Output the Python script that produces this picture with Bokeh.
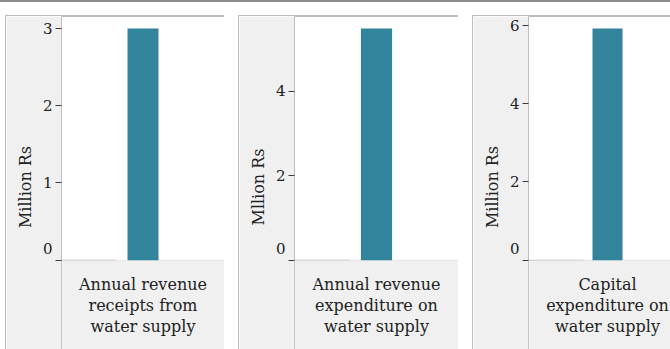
from bokeh.plotting import figure
from bokeh.models import Range1d, FactorRange, FixedTicker, BoxAnnotation
from bokeh.layouts import row, column
from bokeh.core.properties import value
from bokeh.embed import file_html
from bokeh.resources import INLINE

# ---- data ----
categories = [
    "Annual revenue\nreceipts from\nwater supply",
    "Annual revenue\nexpenditure on\nwater supply",
    "Capital\nexpenditure on\nwater supply",
]
values = [3.0, 5.48, 5.92]
axis_titles = ["Million Rs", "Mllion Rs", "Million Rs"]
y_ticks = [[0, 1, 2, 3], [0, 2, 4], [0, 2, 4, 6]]

# ---- style ----
FONT = "DejaVu Serif"
BAR = "#31849b"
PANEL_BG = "#f0f0f0"
EDGE = "#bdbdbd"
TICK = "#3a3a3a"
TEXT = "#222222"

FRAME_H = 340      # frame height (bottom is cropped by the page)
ZERO_PX = 243      # distance from frame top to the zero line
HEAD_PX = 12       # headroom above the tallest bar
AXIS_W = 55
frame_widths = [162, 163, 157]
left_gaps = [5, 14, 14]


def panel(i):
    cat = categories[i]
    v = values[i]
    ppu = (ZERO_PX - HEAD_PX) / v
    p = figure(
        x_range=FactorRange(factors=[cat], range_padding=0),
        y_range=Range1d(-(FRAME_H - ZERO_PX) / ppu, ZERO_PX / ppu),
        width=1 + AXIS_W + frame_widths[i] + 1,
        height=1 + FRAME_H,
        x_axis_location=None,
        toolbar_location=None,
        output_backend="svg",
        min_border=0,
        min_border_left=AXIS_W,
        min_border_right=1,
        margin=(0, 0, 0, left_gaps[i]),
        styles={"border-left": f"1px solid {EDGE}", "border-top": f"1px solid {EDGE}"},
    )
    p.background_fill_color = "white"
    p.border_fill_color = PANEL_BG
    p.outline_line_color = EDGE
    p.grid.visible = False

    # category-label cell below the zero line
    p.add_layout(BoxAnnotation(top=0, fill_color=PANEL_BG, fill_alpha=1,
                               line_color=EDGE, level="underlay"))
    # divider of the empty corner cell, left of the frame
    p.add_layout(BoxAnnotation(left=0, right=AXIS_W, left_units="screen",
                               right_units="screen", top=0, bottom=0,
                               fill_alpha=0, line_color=EDGE, level="overlay"))

    p.vbar(x=[cat], top=[v], bottom=0, width=0.19, fill_color=BAR, line_color=None)
    p.text(x=[cat], y=[0], text=[cat], text_align="center", text_baseline="top",
           y_offset=15, text_font=value(FONT), text_font_size="16px",
           text_line_height=1.1, text_color=TEXT)

    ax = p.yaxis[0]
    ax.ticker = FixedTicker(ticks=y_ticks[i])
    ax.major_label_overrides = {0: "0\n "}
    ax.axis_line_color = None
    ax.major_tick_in = 0
    ax.major_tick_out = 6
    ax.major_tick_line_color = TICK
    ax.major_label_standoff = 3
    ax.major_label_text_font = FONT
    ax.major_label_text_font_size = "15px"
    ax.major_label_text_color = TEXT
    ax.axis_label = axis_titles[i]
    ax.axis_label_text_font = FONT
    ax.axis_label_text_font_size = "16px"
    ax.axis_label_text_font_style = "normal"
    ax.axis_label_text_color = TEXT
    ax.axis_label_standoff = 5
    return p


panels = [panel(i) for i in range(3)]
layout = column(row(*panels, spacing=0, margin=(13, 0, 0, 0)),
                width=670, height=349,
                styles={"overflow": "hidden", "border-top": "2px solid #8c8c8c"})

open("out.html", "w").write(file_html(layout, INLINE))
